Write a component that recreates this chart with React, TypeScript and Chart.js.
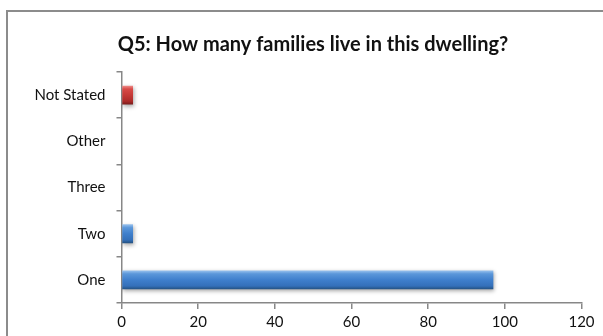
import React, { useEffect, useRef } from "react";
import { Chart, registerables } from "chart.js";

Chart.register(...registerables);

// Survey answers, listed bottom to top
const categories = ["One", "Two", "Three", "Other", "Not Stated"];
const values = [97, 3, 0, 0, 3];
const xTicks = [0, 20, 40, 60, 80, 100, 120];
const titleText = "Q5: How many families live in this dwelling?";

const FONT = "Lato, 'Open Sans', sans-serif";
const AXIS = "#878787";

const blueStops: [number, string][] = [
  [0, "#9cc4ee"],
  [0.18, "#5b97da"],
  [0.5, "#3f7fcc"],
  [0.82, "#3470ba"],
  [1, "#23507f"],
];
const redStops: [number, string][] = [
  [0, "#ef8f8c"],
  [0.18, "#d84a47"],
  [0.5, "#c53a37"],
  [0.82, "#ac2b29"],
  [1, "#761b1a"],
];

// White page, grey frame and the heading
const framePlugin = {
  id: "frame",
  beforeDraw(chart: Chart) {
    const { ctx, width, height } = chart;
    ctx.save();
    ctx.fillStyle = "#ffffff";
    ctx.fillRect(0, 0, width, height);
    ctx.strokeStyle = "#8c8c8c";
    ctx.lineWidth = 2;
    ctx.strokeRect(7, 11, width + 40, height + 40);
    ctx.fillStyle = "#111111";
    ctx.font = `bold 20px ${FONT}`;
    ctx.textAlign = "center";
    ctx.textBaseline = "middle";
    ctx.fillText(titleText, 313, 45);
    ctx.restore();
  },
};

// Soft drop shadow beneath the bars
const shadowPlugin = {
  id: "barShadow",
  beforeDatasetsDraw(chart: Chart) {
    const ctx = chart.ctx;
    ctx.save();
    ctx.shadowColor = "rgba(0,0,0,0.35)";
    ctx.shadowBlur = 4;
    ctx.shadowOffsetX = 1;
    ctx.shadowOffsetY = 2;
  },
  afterDatasetsDraw(chart: Chart) {
    chart.ctx.restore();
  },
};

export default function App() {
  const ref = useRef<HTMLCanvasElement | null>(null);

  useEffect(() => {
    if (!ref.current) return;
    const barPct = 0.41;
    const chart = new Chart(ref.current, {
      type: "bar",
      data: {
        labels: categories,
        datasets: [
          {
            data: values,
            barPercentage: barPct,
            categoryPercentage: 1,
            borderWidth: 0,
            backgroundColor: (c: any) => {
              const ch = c.chart;
              const y = ch.scales?.y;
              const stops = categories[c.dataIndex] === "Not Stated" ? redStops : blueStops;
              if (!y || c.dataIndex === undefined) return stops[2][1];
              const center = y.getPixelForValue(c.dataIndex);
              const band = Math.abs(y.getPixelForValue(1) - y.getPixelForValue(0));
              const half = (band * barPct) / 2;
              if (!isFinite(center) || !isFinite(half) || half <= 0) return stops[2][1];
              const g = ch.ctx.createLinearGradient(0, center - half, 0, center + half);
              stops.forEach(([o, col]) => g.addColorStop(o, col));
              return g;
            },
          },
        ],
      },
      options: {
        indexAxis: "y",
        responsive: false,
        animation: false,
        layout: { padding: { top: 72, right: 21.5, left: 0, bottom: 0 } },
        plugins: {
          legend: { display: false },
          title: { display: false },
          tooltip: { enabled: false },
        },
        scales: {
          x: {
            min: 0,
            max: 120,
            afterBuildTicks: (s: any) => {
              s.ticks = xTicks.map((v) => ({ value: v }));
            },
            afterFit: (s: any) => {
              s.height = 33;
            },
            grid: {
              drawOnChartArea: false,
              drawTicks: true,
              tickLength: 6,
              color: AXIS,
              lineWidth: 1.5,
            },
            border: { display: true, color: AXIS, width: 1.5 },
            ticks: {
              padding: 4,
              color: "#111111",
              font: { family: FONT, size: 15 },
            },
          },
          y: {
            reverse: true,
            afterFit: (s: any) => {
              s.width = 121.5;
            },
            grid: {
              offset: true,
              drawOnChartArea: false,
              drawTicks: true,
              tickLength: 5,
              color: AXIS,
              lineWidth: 1.5,
            },
            border: { display: true, color: AXIS, width: 1.5 },
            ticks: {
              padding: 11,
              color: "#111111",
              font: { family: FONT, size: 15 },
            },
          },
        },
      },
      plugins: [framePlugin, shadowPlugin],
    });
    return () => chart.destroy();
  }, []);

  return (
    <div style={{ position: "fixed", left: 0, top: 0, width: 603, height: 336 }}>
      <canvas ref={ref} width={603} height={336} style={{ display: "block" }} />
    </div>
  );
}
